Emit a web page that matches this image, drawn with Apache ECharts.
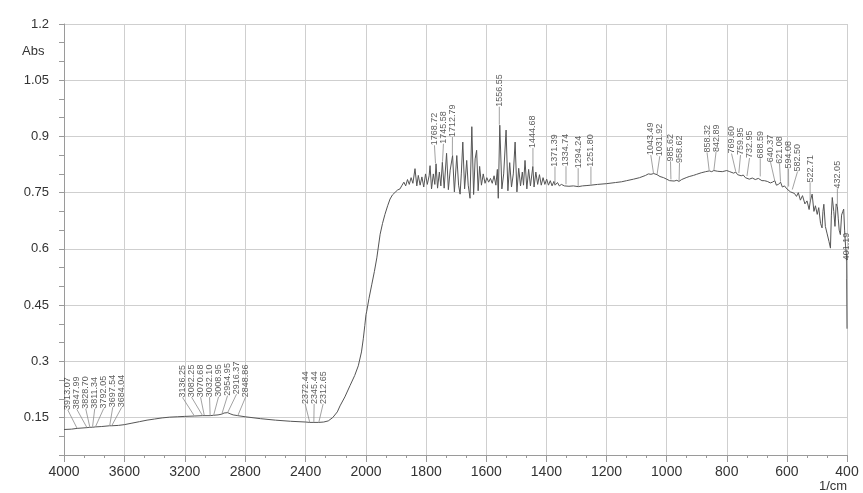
<!DOCTYPE html>
<html><head><meta charset="utf-8">
<script src="https://cdn.jsdelivr.net/npm/echarts@6/dist/echarts.min.js"></script>
<style>html,body{margin:0;padding:0;background:#fff}#c{width:863px;height:493px}</style>
</head><body><div id="c"></div>
<script>
// ---- data ----
const wavenumbers = [4000,3950,3913,3900,3848,3829,3811,3792,3750,3698,3684,3640,3600,3550,3500,3450,3400,3350,3300,3250,3200,3136,3082,3071,3032,3009,2980,2955,2940,2927,2916,2900,2880,2849,2800,2700,2600,2500,2400,2372,2345,2313,2280,2250,2220,2190,2172,2140,2106,2075,2051,2030,2018,2008,2000,
1998,1990,1981,1972,1964,1953,1945,1937,1928,1920,1912,1903,1895,1887,1880,1874,1868,1862,1856,1850,1844,1837,1831,1826,1820,1814,1808,1802,1796,1790,1787,1782,1776,1771,1767,1762,1756,1751,1746,1740,1732,1726,1720,1712,1706,1698,1692,1687,1683,1678,1672,1665,1660,1654,1648,1642,1637,1632,1627,1622,1616,1610,1604,1598,1592,1586,1580,1574,1568,1563,1560,1555,1548,1542,1534,1528,1522,1516,1510,1504,1498,1492,1486,1480,1476,1471,1465,1459,1453,1445,1441,1435,1429,1423,1417,1411,1405,1399,1393,1387,1381,1375,1371,1363,1357,1350,1340,1335,1325,1310,1294,1280,1265,1252,1230,1200,1170,1150,1133,1110,1090,1070,1061,1052,1043,1037,1032,1022,1010,1000,990,986,975,966,959,950,935,925,911,900,885,870,858,850,843,830,815,800,790,784,777,770,764,760,752,745,738,733,725,715,705,695,689,683,675,665,655,648,640,635,628,621,615,608,600,594,588,582,575,568,562,555,548,540,533,526,522,516,510,505,499,494,488,483,480,477,472,466,460,455,452,449,444,440,436,432,429,426,422,418,414,411,408,405,402,401,400];
const absorbance = [0.118,0.119,0.121,0.121,0.123,0.124,0.124,0.125,0.126,0.128,0.128,0.129,0.131,0.135,0.139,0.143,0.146,0.149,0.151,0.152,0.153,0.154,0.155,0.155,0.155,0.156,0.157,0.159,0.162,0.165,0.163,0.160,0.157,0.155,0.152,0.147,0.143,0.140,0.138,0.137,0.137,0.137,0.138,0.141,0.150,0.165,0.181,0.205,0.235,0.262,0.288,0.325,0.360,0.395,0.425,
0.432,0.468,0.504,0.540,0.576,0.639,0.668,0.692,0.715,0.733,0.744,0.751,0.757,0.760,0.770,0.778,0.768,0.785,0.772,0.790,0.775,0.814,0.768,0.796,0.770,0.792,0.765,0.800,0.772,0.795,0.822,0.760,0.800,0.772,0.827,0.762,0.805,0.768,0.831,0.762,0.855,0.758,0.810,0.849,0.752,0.849,0.770,0.746,0.800,0.885,0.760,0.836,0.770,0.735,0.926,0.745,0.840,0.863,0.755,0.820,0.770,0.800,0.775,0.790,0.778,0.788,0.775,0.795,0.770,0.812,0.735,0.930,0.760,0.800,0.917,0.755,0.830,0.765,0.800,0.885,0.752,0.815,0.768,0.805,0.770,0.836,0.760,0.812,0.768,0.820,0.765,0.805,0.772,0.798,0.770,0.790,0.772,0.786,0.770,0.782,0.768,0.780,0.770,0.777,0.768,0.772,0.768,0.771,0.767,0.768,0.766,0.768,0.769,0.770,0.772,0.774,0.777,0.779,0.782,0.786,0.790,0.796,0.800,0.799,0.801,0.797,0.798,0.793,0.790,0.786,0.782,0.784,0.781,0.783,0.780,0.785,0.790,0.793,0.796,0.799,0.803,0.806,0.808,0.806,0.809,0.807,0.806,0.809,0.806,0.803,0.802,0.805,0.798,0.801,0.795,0.797,0.790,0.793,0.786,0.789,0.785,0.788,0.792,0.782,0.782,0.780,0.776,0.778,0.782,0.770,0.772,0.778,0.765,0.768,0.760,0.765,0.752,0.757,0.748,0.740,0.750,0.730,0.742,0.720,0.728,0.705,0.728,0.746,0.700,0.715,0.692,0.710,0.668,0.656,0.700,0.719,0.660,0.640,0.620,0.602,0.690,0.737,0.700,0.660,0.720,0.712,0.680,0.650,0.638,0.690,0.700,0.706,0.650,0.610,0.585,0.520,0.387];
const peakWavenumbers = [3913.07,3847.99,3828.70,3811.34,3792.05,3697.54,3684.04,
  3136.25,3082.25,3070.68,3032.10,3008.95,2954.95,2916.37,2848.86,
  2372.44,2345.44,2312.65,
  1768.72,1745.58,1712.79,1556.55,1444.68,1371.39,1334.74,1294.24,1251.80,
  1043.49,1031.92,985.62,958.62,858.32,842.89,769.60,759.95,732.95,688.59,640.37,621.08,594.08,582.50,522.71,432.05,401.19];
const peakLabels = peakWavenumbers.map(w => w.toFixed(2));
const xTicksHigh = [4000,3600,3200,2800,2400,2000];
const xTicksLow = [2000,1800,1600,1400,1200,1000,800,600,400];
const yTickLabels = [0.15,0.3,0.45,0.6,0.75,0.9,1.05,1.2];
const yName = 'Abs';
const xName = '1/cm';

// ---- build ----
const FONT = '"Liberation Sans", Arial, sans-serif';
const breakW = xTicksLow[0];
const chart = echarts.init(document.getElementById('c'), null, {renderer: 'canvas'});

function nearestValue(w) {
  let bi = 0, bd = Infinity;
  for (let i = 0; i < wavenumbers.length; i++) {
    const d = Math.abs(wavenumbers[i] - w);
    if (d < bd) { bd = d; bi = i; }
  }
  return absorbance[bi];
}
const highPts = [], lowPts = [];
wavenumbers.forEach((w, i) => {
  if (w >= breakW) highPts.push([w, absorbance[i]]);
  if (w <= breakW) lowPts.push([w, absorbance[i]]);
});
const peakHigh = [], peakLow = [];
peakWavenumbers.forEach((w, i) => {
  const item = {value: [w, nearestValue(w)], name: peakLabels[i]};
  (w >= breakW ? peakHigh : peakLow).push(item);
});

const yMax = Math.max(...yTickLabels);
const yStep = 0.05, yMin = 0.05;
const gridColor = '#cfcfcf';
function isMajorY(v) { return yTickLabels.some(t => Math.abs(t - v) < 1e-6); }

// label offsets are applied in the label's rotated frame: local y -> screen right
const dxMap = {2: {}, 3: {}};
const layoutFn = params => {
  const m = dxMap[params.seriesIndex] || {};
  const d = m[params.dataIndex];
  return {dy: (typeof d === 'number' && isFinite(d) && d !== 0) ? d : 0.001};
};

function makeX(gi, ticks, hideMin) {
  const mn = Math.min(...ticks), mx = Math.max(...ticks);
  return {
    type: 'value', gridIndex: gi, inverse: true, min: mn, max: mx,
    interval: Math.abs(ticks[0] - ticks[1]),
    axisLine: {show: true, onZero: false, lineStyle: {color: '#9a9a9a', width: 1}},
    axisTick: {show: true, length: 7, lineStyle: {color: '#9a9a9a'}},
    minorTick: {show: true, splitNumber: 3, length: 3, lineStyle: {color: '#9a9a9a'}},
    splitLine: {show: true, lineStyle: {color: gridColor, width: 1}},
    axisLabel: {show: true, fontSize: 14, color: '#333', fontFamily: FONT, margin: 10,
      showMinLabel: !hideMin, formatter: v => String(v)}
  };
}
function makeY(gi, showLabels) {
  return {
    type: 'value', gridIndex: gi, min: yMin, max: yMax, interval: yStep,
    axisLine: {show: showLabels, onZero: false, lineStyle: {color: '#9a9a9a'}},
    axisTick: {show: showLabels, length: 5, lineStyle: {color: '#9a9a9a'}},
    splitLine: {show: true, lineStyle: {color: ['rgba(0,0,0,0)', 'rgba(0,0,0,0)', gridColor], width: 1}},
    axisLabel: {show: showLabels, fontSize: 13, color: '#333', fontFamily: FONT, margin: 15,
      formatter: v => isMajorY(v) ? String(+v.toFixed(2)) : ''}
  };
}
function peakSeries(gi, data) {
  return {
    type: 'scatter', xAxisIndex: gi, yAxisIndex: gi, data: data,
    symbol: 'circle', symbolSize: 1, itemStyle: {color: 'rgba(0,0,0,0)'},
    silent: true, z: 5,
    label: {show: true, formatter: '{b}', position: 'top', distance: 18, rotate: 90,
      align: 'left', verticalAlign: 'middle', fontSize: 9, color: '#333', fontFamily: FONT},
    labelLine: {show: true, lineStyle: {color: '#8a8a8a', width: 0.8}},
    labelLayout: layoutFn
  };
}
const option = {
  backgroundColor: '#ffffff',
  animation: false,
  textStyle: {fontFamily: FONT},
  grid: [
    {left: 64, top: 24, width: 302, bottom: 38, containLabel: false},
    {left: 366, top: 24, right: 16, bottom: 38, containLabel: false}
  ],
  xAxis: [makeX(0, xTicksHigh, true), makeX(1, xTicksLow, false)],
  yAxis: [makeY(0, true), makeY(1, false)],
  series: [
    {type: 'line', xAxisIndex: 0, yAxisIndex: 0, data: highPts, showSymbol: false, symbol: 'none',
      lineStyle: {color: '#555', width: 1}, silent: true, z: 3},
    {type: 'line', xAxisIndex: 1, yAxisIndex: 1, data: lowPts, showSymbol: false, symbol: 'none',
      lineStyle: {color: '#555', width: 1}, silent: true, z: 3},
    peakSeries(0, peakHigh),
    peakSeries(1, peakLow)
  ],
  graphic: [
    {type: 'text', left: 22, top: 45, style: {text: yName, fontSize: 13, fill: '#333', font: '13px ' + FONT}},
    {type: 'text', left: 819, top: 480, style: {text: xName, fontSize: 13, fill: '#333', font: '13px ' + FONT}}
  ]
};
chart.setOption(option);

// spread the crowded peak labels horizontally (pixel positions from the chart's own scales)
const SP = 9;
const all = [];
function toPx(si, gi, val) {
  let p = null;
  try { p = chart.convertToPixel({seriesIndex: si}, val); } catch (e) {}
  if (!p || !isFinite(p[0])) {
    try { p = chart.convertToPixel({xAxisIndex: gi}, val[0]); p = [p, 0]; } catch (e) {}
  }
  return p;
}
[[2, 0, peakHigh], [3, 1, peakLow]].forEach(([si, gi, arr]) => {
  arr.forEach((it, di) => {
    const p = toPx(si, gi, it.value);
    all.push({si, di, x: p ? p[0] : NaN});
  });
});
all.sort((a, b) => a.x - b.x);
const blocks = [];
function blkPos(blk) {
  const n = blk.items.length;
  const c = blk.items.reduce((s, q) => s + q.x, 0) / n;
  return {l: c - (n - 1) / 2 * SP - SP / 2, r: c + (n - 1) / 2 * SP + SP / 2, c};
}
all.forEach(it => {
  blocks.push({items: [it]});
  while (blocks.length > 1) {
    const b = blocks[blocks.length - 1], a = blocks[blocks.length - 2];
    if (blkPos(a).r > blkPos(b).l) { a.items = a.items.concat(b.items); blocks.pop(); } else break;
  }
});
blocks.forEach(blk => {
  const n = blk.items.length;
  const c = blkPos(blk).c;
  blk.items.forEach((q, k) => { dxMap[q.si][q.di] = c + (k - (n - 1) / 2) * SP - q.x; });
});
chart.clear();
chart.setOption(option, true);
</script>
</body></html>
